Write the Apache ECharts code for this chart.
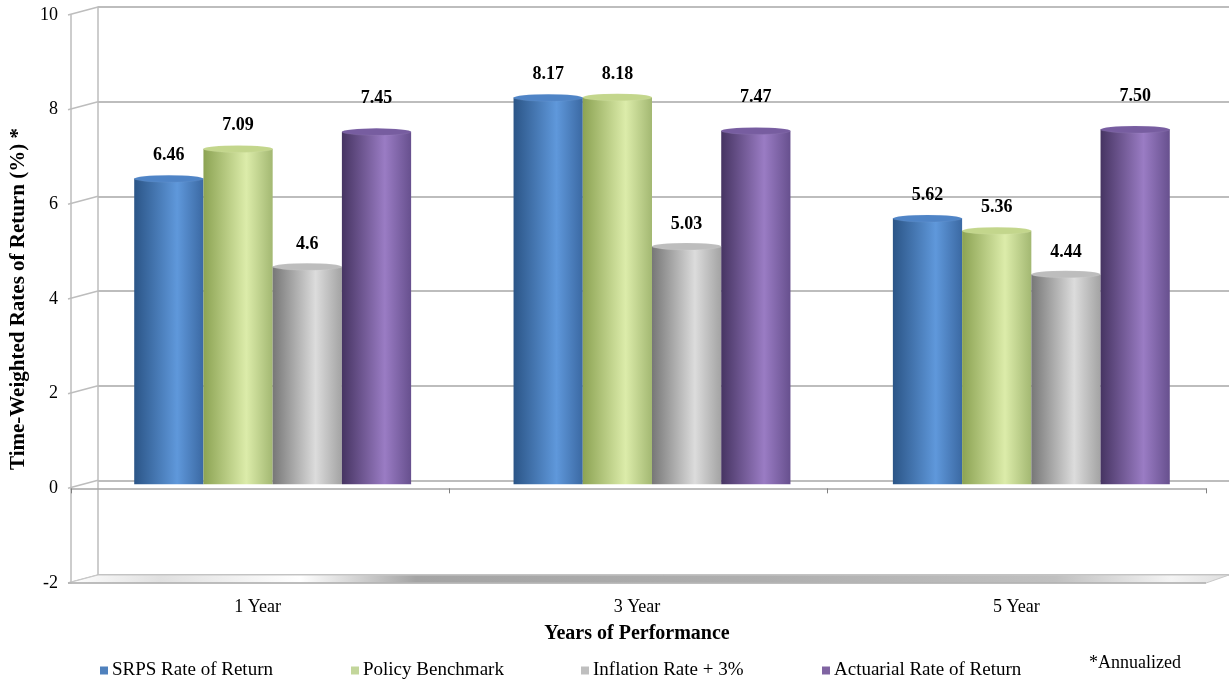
<!DOCTYPE html>
<html>
<head>
<meta charset="utf-8">
<script src="https://cdn.jsdelivr.net/npm/echarts@6/dist/echarts.min.js"></script>
<style>
  html, body { margin: 0; padding: 0; background: #ffffff; }
  #chart { width: 1229px; height: 681px; }
</style>
</head>
<body>
<div id="chart"></div>
<script>
// Time-weighted rates of return by performance period
const categories = ['1 Year', '3 Year', '5 Year'];
const seriesNames = ['SRPS Rate of Return', 'Policy Benchmark', 'Inflation Rate + 3%', 'Actuarial Rate of Return'];
const srpsReturn = [6.46, 8.17, 5.62];
const policyBenchmark = [7.09, 8.18, 5.36];
const inflationPlus3 = [4.6, 5.03, 4.44];
const actuarialReturn = [7.45, 7.47, 7.50];
const yMin = -2, yMax = 10, yInterval = 2;
const yTickValues = [-2, 0, 2, 4, 6, 8, 10];

const FONT = "'Liberation Serif', 'Times New Roman', serif";

// Three stacked planes give the box its depth: back wall, bar plane, front edge
const BACK = { left: 98, right: 0, top: 7, bottom: 106 };
const MID = { left: 83, right: 8, top: 11, bottom: 102 };
const FRONT = { left: 68, right: 23, top: 15, bottom: 98 };

const palette = [
  { edge: '#2b5587', light: '#5f98db', right: '#3b69a3', cap: '#4f84c6', rim: '#b3cdee', legend: '#4f81bd' },
  { edge: '#8ca353', light: '#dcecaa', right: '#a3b872', cap: '#c3d68c', rim: '#f4f9e2', legend: '#c3d69b' },
  { edge: '#777777', light: '#dcdcdc', right: '#a3a3a3', cap: '#bdbdbd', rim: '#f4f4f4', legend: '#bfbfbf' },
  { edge: '#463462', light: '#9a7cc4', right: '#67508e', cap: '#775da0', rim: '#d2c6e6', legend: '#8064a2' }
];
const seriesData = [srpsReturn, policyBenchmark, inflationPlus3, actuarialReturn];
const labelDistance = [14, 14, 13, 24];

function bodyGradient(c) {
  return new echarts.graphic.LinearGradient(0, 0, 1, 0, [
    { offset: 0, color: c.edge },
    { offset: 0.62, color: c.light },
    { offset: 1, color: c.right }
  ]);
}

const series = [];
seriesData.forEach(function (data, i) {
  const c = palette[i];
  series.push({
    name: seriesNames[i],
    type: 'bar',
    xAxisIndex: 1,
    yAxisIndex: 1,
    data: data,
    barGap: '0%',
    barCategoryGap: '27%',
    z: 2,
    itemStyle: { color: bodyGradient(c) },
    label: {
      show: true,
      position: 'top',
      distance: labelDistance[i],
      fontFamily: FONT,
      fontWeight: 'bold',
      fontSize: 18,
      color: '#000000',
      formatter: function (p) {
        return i === 3 ? p.value.toFixed(2) : String(p.value);
      }
    }
  });
});
// Elliptical caps on the cylinder tops
seriesData.forEach(function (data, i) {
  const c = palette[i];
  series.push({
    name: seriesNames[i],
    type: 'pictorialBar',
    xAxisIndex: 1,
    yAxisIndex: 1,
    data: data,
    barGap: '0%',
    barCategoryGap: '27%',
    symbol: 'circle',
    symbolSize: ['100%', 7],
    symbolPosition: 'end',
    symbolOffset: [0, '-50%'],
    z: 3,
    itemStyle: { color: c.cap, borderColor: c.rim, borderWidth: 1 },
    silent: true,
    legendHoverLink: false
  });
});

function legendAt(left, i) {
  return {
    left: left,
    top: 656,
    data: [{ name: seriesNames[i], itemStyle: { color: palette[i].legend } }],
    icon: 'rect',
    itemWidth: 8,
    itemHeight: 8,
    itemGap: 0,
    textStyle: { fontFamily: FONT, fontSize: 19, color: '#000000', padding: [0, 0, 0, -1] },
    selectedMode: false
  };
}

const chart = echarts.init(document.getElementById('chart'), null, { renderer: 'canvas' });

const option = {
  animation: false,
  backgroundColor: '#ffffff',
  grid: [
    Object.assign({ containLabel: false }, BACK),
    Object.assign({ containLabel: false }, MID),
    Object.assign({ containLabel: false }, FRONT),
    Object.assign({ containLabel: false }, FRONT)
  ],
  legend: [legendAt(95, 0), legendAt(346, 1), legendAt(576, 2), legendAt(817, 3)],
  xAxis: [
    { gridIndex: 0, type: 'category', data: categories, show: false },
    { gridIndex: 1, type: 'category', data: categories, show: false },
    {
      gridIndex: 2, type: 'category', data: categories,
      axisLine: { show: true, onZero: true, lineStyle: { color: '#a6a6a6', width: 1.5 } },
      axisTick: { show: true, length: 5, lineStyle: { color: '#808080' } },
      axisLabel: { show: false },
      splitLine: { show: false }
    },
    {
      gridIndex: 3, type: 'category', data: categories, position: 'bottom',
      axisLine: { show: false, onZero: false },
      axisTick: { show: false },
      axisLabel: { show: true, margin: 15, fontFamily: FONT, fontSize: 18, color: '#000000' },
      name: 'Years of Performance',
      nameLocation: 'middle',
      nameGap: 41,
      nameTextStyle: { fontFamily: FONT, fontSize: 20, fontWeight: 'bold', color: '#000000' }
    }
  ],
  yAxis: [
    {
      gridIndex: 0, type: 'value', min: yMin, max: yMax, interval: yInterval,
      axisLine: { show: true, lineStyle: { color: '#bdbdbd', width: 1.5 } },
      axisTick: { show: false },
      axisLabel: { show: false },
      splitLine: { show: true, lineStyle: { color: '#bdbdbd', width: 2 } }
    },
    {
      gridIndex: 1, type: 'value', min: yMin, max: yMax, interval: yInterval,
      show: false, splitLine: { show: false }
    },
    {
      gridIndex: 2, type: 'value', min: yMin, max: yMax, interval: yInterval,
      axisLine: { show: true, lineStyle: { color: '#bdbdbd', width: 1.5 } },
      axisTick: { show: false },
      axisLabel: { show: true, margin: 13, fontFamily: FONT, fontSize: 18, color: '#000000' },
      splitLine: { show: false },
      name: 'Time-Weighted Rates of Return (%) *',
      nameLocation: 'middle',
      nameGap: 40,
      nameTextStyle: { fontFamily: FONT, fontSize: 21, fontWeight: 'bold', color: '#000000' }
    },
    {
      gridIndex: 3, type: 'value', min: yMin, max: yMax, interval: yInterval,
      show: false, splitLine: { show: false }
    }
  ],
  series: series,
  graphic: [
    {
      type: 'text',
      left: 1089,
      top: 654,
      style: { text: '*Annualized', fontFamily: FONT, fontSize: 18, fill: '#000000' }
    }
  ]
};

chart.setOption(option);

// Depth edges: connect the front frame to the back wall at each tick, and lay the floor slab
const W = 1229, H = 681;
const frontLeft = FRONT.left, frontRight = W - FRONT.right;
const backLeft = BACK.left, backRight = W - BACK.right;
const extras = [];
yTickValues.forEach(function (v) {
  const yf = chart.convertToPixel({ yAxisIndex: 2 }, v);
  const yb = chart.convertToPixel({ yAxisIndex: 0 }, v);
  extras.push({
    type: 'line', silent: true, z: 1,
    shape: { x1: frontLeft, y1: yf, x2: backLeft, y2: yb },
    style: { stroke: '#bdbdbd', lineWidth: 1.5 }
  });
});
const yfFloor = chart.convertToPixel({ yAxisIndex: 2 }, yMin);
const ybFloor = chart.convertToPixel({ yAxisIndex: 0 }, yMin);
extras.push({
  type: 'polygon', silent: true, z: 1,
  shape: { points: [[frontLeft, yfFloor], [frontRight, yfFloor], [backRight, ybFloor], [backLeft, ybFloor]] },
  style: {
    fill: new echarts.graphic.LinearGradient(0, 0, 1, 0, [
      { offset: 0, color: '#ffffff' },
      { offset: 0.08, color: '#e0e0e0' },
      { offset: 0.2, color: '#ffffff' },
      { offset: 0.3, color: '#a4a4a4' },
      { offset: 0.6, color: '#afafaf' },
      { offset: 0.85, color: '#c0c0c0' },
      { offset: 0.95, color: '#f4f4f4' },
      { offset: 1, color: '#dedede' }
    ]),
    stroke: '#c8c8c8',
    lineWidth: 1
  }
});
extras.push({
  type: 'line', silent: true, z: 1,
  shape: { x1: frontLeft, y1: yfFloor, x2: frontRight, y2: yfFloor },
  style: { stroke: '#b0b0b0', lineWidth: 1.5 }
});
option.graphic = option.graphic.concat(extras);
chart.setOption({ graphic: option.graphic });
</script>
</body>
</html>
